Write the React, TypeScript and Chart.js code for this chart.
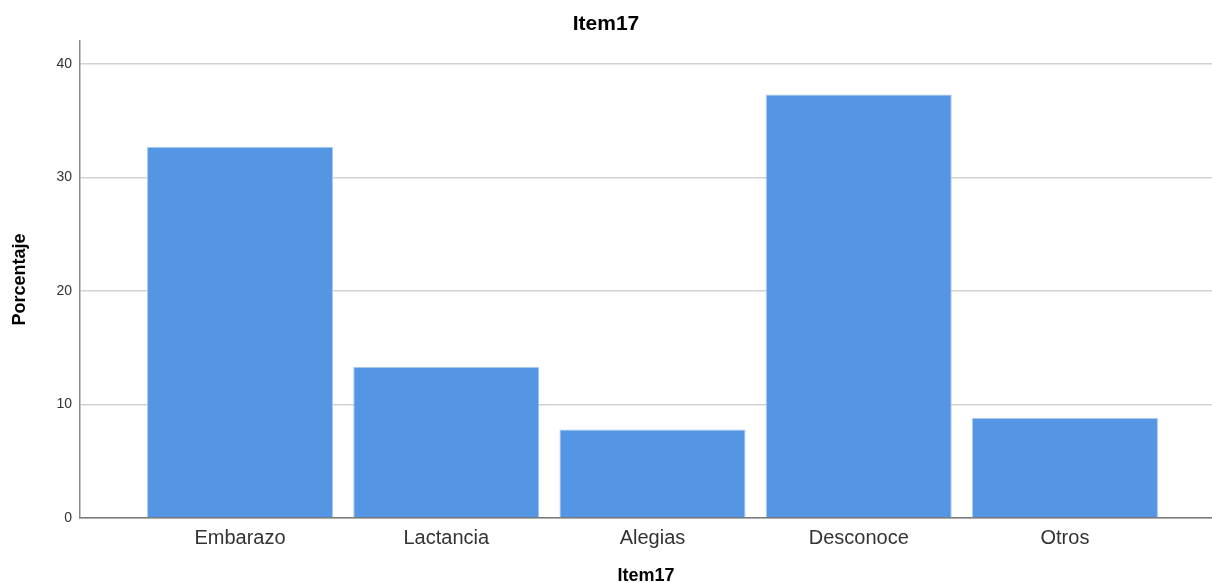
import React, { useEffect, useRef } from "react";
import { Chart, registerables } from "chart.js";

Chart.register(...registerables);

const categories = ["Embarazo", "Lactancia", "Alegias", "Desconoce", "Otros"];
const percentages = [32.7, 13.3, 7.8, 37.3, 8.8];
const yTicks = [0, 10, 20, 30, 40];
const chartTitle = "Item17";
const xTitle = "Item17";
const yTitle = "Porcentaje";

const FONT = "'Liberation Sans', Arial, Helvetica, sans-serif";

export default function App() {
  const ref = useRef<HTMLCanvasElement | null>(null);

  useEffect(() => {
    if (!ref.current) return;
    const chart = new Chart(ref.current, {
      type: "bar",
      data: {
        datasets: [
          {
            label: yTitle,
            data: percentages.map((v, i) => ({ x: i, y: v })),
            backgroundColor: "#5596e4",
            borderColor: "#a9c9f2",
            borderWidth: 1,
            borderSkipped: "bottom",
            barPercentage: 0.902,
            categoryPercentage: 1,
          },
        ],
      },
      options: {
        responsive: false,
        animation: false,
        devicePixelRatio: 1,
        layout: { padding: 0 },
        plugins: {
          legend: { display: false },
          tooltip: { enabled: false },
          title: {
            display: true,
            text: chartTitle,
            color: "#000",
            font: { family: FONT, size: 21, weight: "bold", lineHeight: 1.2 },
            padding: { top: 12, bottom: 4 },
          },
        },
        scales: {
          x: {
            type: "linear",
            min: -0.776,
            max: 4.713,
            offset: false,
            bounds: "ticks",
            z: 1,
            afterFit: (scale: any) => {
              scale.height = 65;
            },
            afterBuildTicks: (scale: any) => {
              scale.ticks = categories.map((_, i) => ({ value: i }));
            },
            grid: { display: false, drawTicks: false, offset: false },
            border: { display: true, color: "#7a7a7a", width: 1.5 },
            ticks: {
              autoSkip: false,
              maxRotation: 0,
              padding: 8,
              color: "#333",
              font: { family: FONT, size: 20 },
              callback: (v: any) => categories[Math.round(Number(v))] ?? "",
            },
            title: {
              display: true,
              text: xTitle,
              color: "#000",
              font: { family: FONT, size: 18, weight: "bold", lineHeight: 1 },
              padding: { top: 0, bottom: -2 },
            },
          },
          y: {
            min: 0,
            max: 42,
            afterFit: (scale: any) => {
              scale.width = 80;
            },
            afterBuildTicks: (scale: any) => {
              scale.ticks = yTicks.map((v) => ({ value: v }));
            },
            grid: {
              display: true,
              drawTicks: false,
              color: "#d2d2d2",
              lineWidth: 1.5,
            },
            border: { display: true, color: "#8a8a8a", width: 1.5 },
            ticks: {
              padding: 8,
              color: "#333",
              font: { family: FONT, size: 14 },
            },
            title: {
              display: true,
              text: yTitle,
              color: "#000",
              font: { family: FONT, size: 18, weight: "bold", lineHeight: 1.2 },
              padding: { top: 9, bottom: 0 },
            },
          },
        },
      },
    } as any);
    return () => chart.destroy();
  }, []);

  return (
    <div style={{ position: "absolute", left: 0, top: 0, width: 1212, height: 583, background: "#fff" }}>
      <canvas ref={ref} width={1212} height={583} style={{ display: "block" }} />
    </div>
  );
}
